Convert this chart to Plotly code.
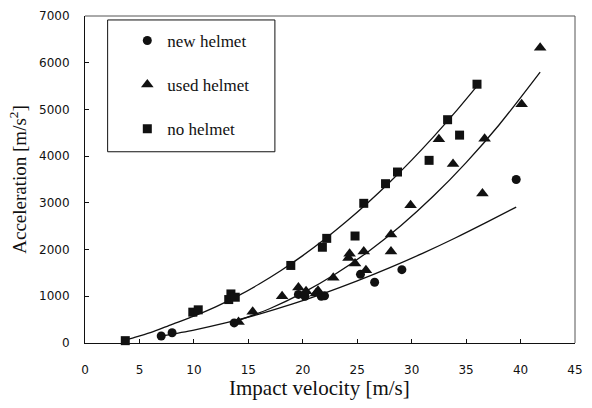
import plotly.graph_objects as go

# ---- data ----
new_x = [7.0, 8.0, 13.7, 19.6, 20.2, 21.7, 22.0, 25.3, 26.6, 29.1, 39.6]
new_y = [150, 220, 430, 1040, 1000, 1000, 1010, 1470, 1300, 1570, 3500]

used_x = [14.1, 15.4, 18.1, 19.6, 20.3, 21.2, 21.4, 22.8, 24.2, 24.3, 24.8, 25.6, 25.8,
          28.1, 28.1, 29.9, 32.5, 33.8, 36.5, 36.7, 40.1, 41.8]
used_y = [450, 670, 1000, 1190, 1110, 1060, 1120, 1395, 1820, 1910, 1700, 1960, 1560,
          2320, 1960, 2950, 4360, 3830, 3200, 4370, 5110, 6320]

no_x = [3.7, 9.9, 10.4, 13.2, 13.4, 13.8, 18.9, 21.8, 22.2, 24.8, 25.6, 27.6, 28.7,
        31.6, 33.3, 34.4, 36.0]
no_y = [50, 660, 710, 930, 1050, 980, 1660, 2050, 2240, 2290, 2990, 3410, 3660,
        3910, 4780, 4450, 5540]

# fitted trend curves
fit_new_x = [7.0, 10, 13, 16, 19, 22, 25, 28, 31, 34, 37, 39.6]
fit_new_y = [150, 277, 434, 619, 831, 1068, 1329, 1613, 1919, 2248, 2598, 2910]

fit_used_x = [14.0, 17, 20, 23, 26, 29, 32, 35, 38, 41.8]
fit_used_y = [474, 739, 1072, 1476, 1955, 2510, 3145, 3862, 4662, 5800]

fit_no_x = [3.7, 4.5, 6, 8, 10, 12, 14, 16, 18, 20, 22, 24, 26, 28, 30, 32, 34, 36]
fit_no_y = [65, 115, 220, 400, 576, 775, 1004, 1263, 1553, 1871, 2220, 2599, 3007, 3446, 3915, 4413, 4942, 5500]

series_names = ["new helmet", "used helmet", "no helmet"]

x_ticks = [0, 5, 10, 15, 20, 25, 30, 35, 40, 45]
y_ticks = [0, 1000, 2000, 3000, 4000, 5000, 6000, 7000]

INK = "#111111"
fig = go.Figure()

for fx, fy in [(fit_new_x, fit_new_y), (fit_used_x, fit_used_y), (fit_no_x, fit_no_y)]:
    fig.add_trace(go.Scatter(x=fx, y=fy, mode="lines",
                             line=dict(color=INK, width=1.3, shape="spline", smoothing=0.8),
                             showlegend=False, hoverinfo="skip"))

fig.add_trace(go.Scatter(x=new_x, y=new_y, mode="markers", name=series_names[0], legendgroup="a",
                         marker=dict(symbol="circle", size=9, color=INK), cliponaxis=False))
fig.add_trace(go.Scatter(x=used_x, y=used_y, mode="markers", name=series_names[1], legendgroup="b",
                         marker=dict(symbol="triangle-up", size=11, color=INK), cliponaxis=False))
fig.add_trace(go.Scatter(x=no_x, y=no_y, mode="markers", name=series_names[2], legendgroup="c",
                         marker=dict(symbol="square", size=9, color=INK), cliponaxis=False))

axis_common = dict(showgrid=False, zeroline=False, showline=True, linecolor=INK, linewidth=1,
                   ticks="inside", ticklen=4, tickcolor=INK,
                   tickfont=dict(family="DejaVu Sans", size=12, color=INK))

fig.update_xaxes(range=[0, 45], tickvals=x_ticks, ticklabelstandoff=16, **axis_common)
fig.update_yaxes(range=[0, 7000], tickvals=y_ticks, ticklabelstandoff=12,
                 title=dict(text="Acceleration [m/s<sup>2</sup>]", standoff=7,
                            font=dict(family="Liberation Serif", size=19, color=INK)),
                 **axis_common)

# x-axis title (placed slightly left of centre, as in the reference)
fig.add_annotation(text="Impact velocity [m/s]", xref="paper", yref="paper",
                   x=(323 - 85) / 498, y=0, xanchor="center", yanchor="middle",
                   yshift=-45, showarrow=False,
                   font=dict(family="Liberation Serif", size=21, color=INK))

# top and right frame lines
fig.add_shape(type="line", xref="paper", yref="paper", x0=0, x1=1, y0=1, y1=1,
              line=dict(color="#555555", width=1))
fig.add_shape(type="line", xref="paper", yref="paper", x0=1, x1=1, y0=0, y1=1,
              line=dict(color="#555555", width=1))

# legend box
fig.add_shape(type="rect", xref="paper", yref="paper",
              x0=(108 - 85) / 498, x1=(278 - 85) / 498,
              y0=(343 - 150) / 330, y1=(343 - 17) / 330,
              line=dict(color=INK, width=1), fillcolor="rgba(0,0,0,0)")

fig.update_layout(
    width=592, height=408,
    margin=dict(l=85, r=9, t=13, b=65),
    paper_bgcolor="white", plot_bgcolor="white",
    legend=dict(x=(128 - 85) / 498, y=(343 - 20) / 330, xanchor="left", yanchor="top",
                bgcolor="rgba(0,0,0,0)", borderwidth=0, tracegroupgap=19,
                traceorder="grouped",
                font=dict(family="Liberation Serif", size=17, color=INK)),
)

fig.write_html("out.html")
